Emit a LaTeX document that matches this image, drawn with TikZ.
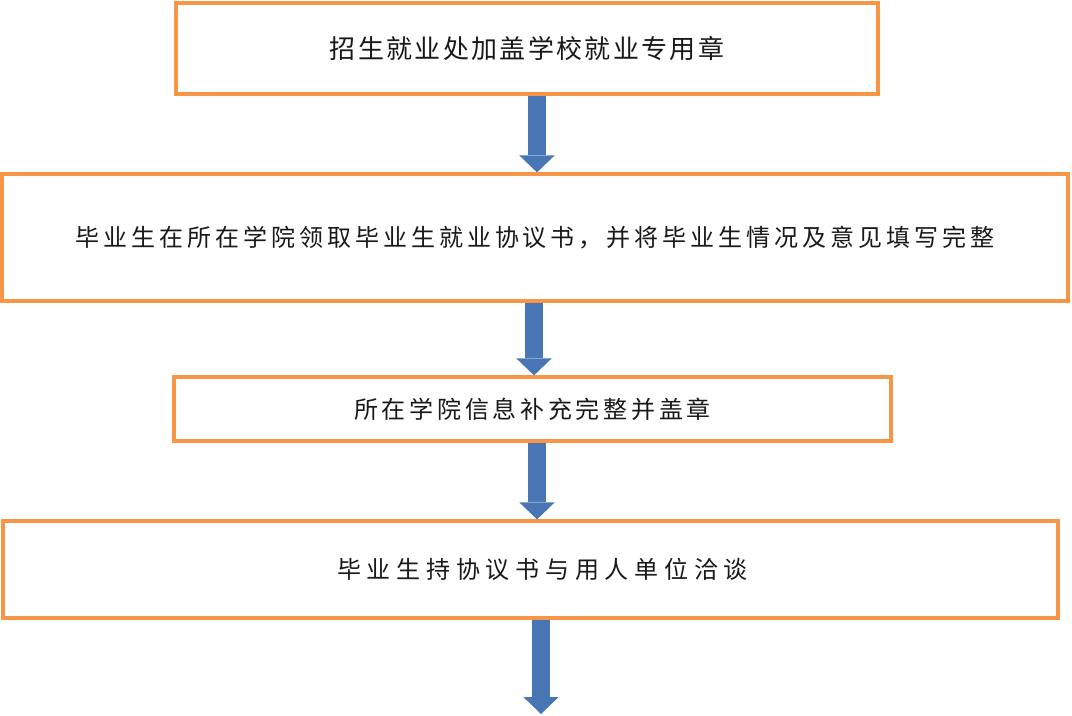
\documentclass[tikz,border=0pt]{standalone}
\usepackage{fontspec}
\usetikzlibrary{arrows.meta}
\setmainfont{Noto Sans CJK SC}
\newfontfamily\cjkA[LetterSpace=9]{Noto Sans CJK SC}
\newfontfamily\cjkB[LetterSpace=15.5]{Noto Sans CJK SC}
\newfontfamily\cjkW[LetterSpace=16.5]{Noto Sans CJK SC}
\newfontfamily\cjkD[LetterSpace=24]{Noto Sans CJK SC}
\definecolor{boxorange}{RGB}{247,150,70}
\definecolor{arrowblue}{RGB}{72,118,180}
\definecolor{txt}{RGB}{25,25,25}
\begin{document}
\begin{tikzpicture}[x=0.75pt,y=-0.75pt,
  stepbox/.style={draw=boxorange, line width=2.4pt, fill=white, inner sep=0pt,
    text=txt, font=\fontsize{18pt}{22pt}\selectfont},
  flow/.style={draw=arrowblue, line width=13.5pt,
    -{Triangle[width=26.5pt,length=12.75pt,line width=0pt]}}]
\useasboundingbox (0,0) rectangle (1072,716);
\node[stepbox, minimum width=702*0.75pt, minimum height=91*0.75pt] (b1) at (527,48.5)
  {\fontsize{19.5pt}{23pt}\cjkA 招生就业处加盖学校就业专用章};
\node[stepbox, minimum width=1066*0.75pt, minimum height=127*0.75pt] (b2) at (535,237.5)
  {\cjkW 毕业生在所在学院领取毕业生就业协议书，并将毕业生情况及意见填写完整};
\node[stepbox, minimum width=717*0.75pt, minimum height=64*0.75pt] (b3) at (532.5,409)
  {\cjkB 所在学院信息补充完整并盖章};
\node[stepbox, minimum width=1055*0.75pt, minimum height=97*0.75pt] (b4) at (530.5,569.5)
  {\hspace*{18pt}\cjkD 毕业生持协议书与用人单位洽谈};
\coordinate (c1) at (537,0);
\coordinate (c2) at (534,0);
\coordinate (c3) at (537,0);
\coordinate (end) at (541,714);
\draw[flow] (b1.south -| c1) -- (b2.north -| c1);
\draw[flow] (b2.south -| c2) -- (b3.north -| c2);
\draw[flow] (b3.south -| c3) -- (b4.north -| c3);
\draw[flow] (b4.south -| end) -- (end);
\end{tikzpicture}
\end{document}
